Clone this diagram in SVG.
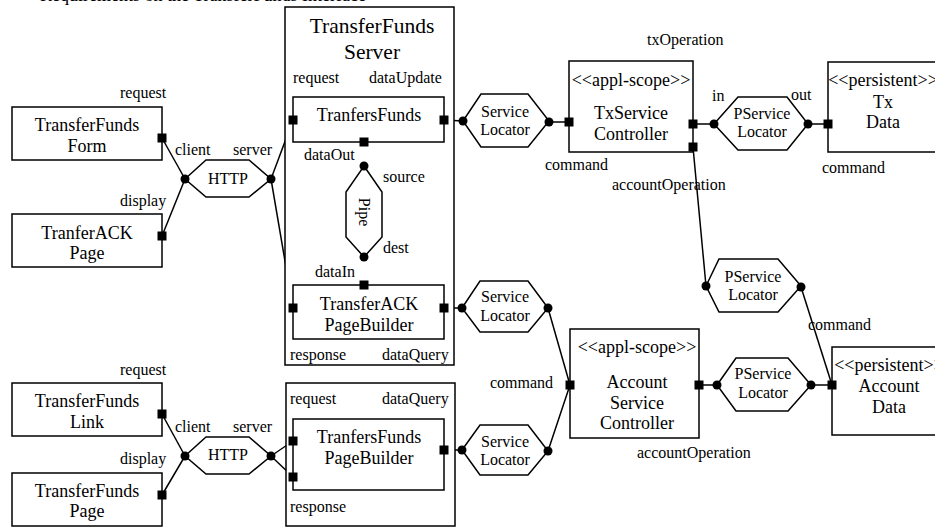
<svg xmlns="http://www.w3.org/2000/svg" width="935" height="527" viewBox="0 0 935 527">
  <style>
    .box { fill: #fff; stroke: #000; stroke-width: 1.5; }
    .hex { fill: #fff; stroke: #000; stroke-width: 1.5; }
    .port { fill: #000; }
    .pin { fill: #000; }
    .wire { stroke: #000; stroke-width: 1.5; fill: none; }
    text { font-family: "Liberation Serif", "Times New Roman", serif; fill: #000; }
    .lbl { font-size: 16px; }
    .nm { font-size: 18px; text-anchor: middle; }
    .hx { font-size: 16px; text-anchor: middle; }
    .ttl { font-size: 21.5px; text-anchor: middle; }
  </style>
  <defs>
    <rect id="sq" x="-4.5" y="-4.5" width="9" height="9" class="port"/>
    <circle id="dot" r="4.5" class="pin"/>
  </defs>

  <rect width="935" height="527" fill="#fff"/>

  <text x="40" y="1" font-size="18">Requirements on the TransferFunds Interface</text>

  <!-- connectors -->
  <g id="connectors">
    <line class="wire" x1="162" y1="138" x2="185" y2="179"/>
    <line class="wire" x1="162" y1="236" x2="185" y2="179"/>
    <line class="wire" x1="271" y1="179" x2="293" y2="120"/>
    <line class="wire" x1="271" y1="179" x2="293" y2="308"/>
    <line class="wire" x1="444" y1="120" x2="463" y2="121"/>
    <line class="wire" x1="549" y1="122" x2="569" y2="122"/>
    <line class="wire" x1="364" y1="142" x2="364" y2="166"/>
    <line class="wire" x1="364" y1="257" x2="364" y2="285"/>
    <line class="wire" x1="444" y1="308" x2="462" y2="308"/>
    <line class="wire" x1="548" y1="308" x2="570" y2="385"/>
    <line class="wire" x1="548" y1="451" x2="570" y2="385"/>
    <line class="wire" x1="444" y1="450" x2="462" y2="450"/>
    <line class="wire" x1="693" y1="124" x2="714" y2="124"/>
    <line class="wire" x1="808" y1="124" x2="828" y2="124"/>
    <line class="wire" x1="693" y1="147" x2="706" y2="286"/>
    <line class="wire" x1="801" y1="287" x2="832" y2="385"/>
    <line class="wire" x1="699" y1="385" x2="717" y2="385"/>
    <line class="wire" x1="811" y1="385" x2="832" y2="385"/>
    <line class="wire" x1="162" y1="414" x2="185" y2="456"/>
    <line class="wire" x1="162" y1="495" x2="185" y2="456"/>
    <line class="wire" x1="271" y1="456" x2="293" y2="441"/>
    <line class="wire" x1="271" y1="456" x2="293" y2="477"/>
  </g>

  <!-- client side components -->
  <g id="transferFundsForm">
    <rect class="box" x="12" y="107" width="150" height="53"/>
    <text class="nm" x="87" y="131">TransferFunds</text>
    <text class="nm" x="87" y="152">Form</text>
    <use href="#sq" x="162" y="138"/>
    <text class="lbl" x="120" y="98">request</text>
  </g>

  <g id="tranferAckPage">
    <rect class="box" x="12" y="214" width="150" height="53"/>
    <text class="nm" x="87" y="239">TranferACK</text>
    <text class="nm" x="87" y="259">Page</text>
    <use href="#sq" x="162" y="236"/>
    <text class="lbl" x="120" y="206">display</text>
  </g>

  <g id="http1">
    <polygon class="hex" points="185,179 206,160 249,160 271,179 249,197 206,197"/>
    <text class="hx" x="228" y="184">HTTP</text>
    <use href="#dot" x="185" y="179"/>
    <use href="#dot" x="271" y="179"/>
    <text class="lbl" x="175" y="155">client</text>
    <text class="lbl" x="233" y="155">server</text>
  </g>

  <!-- server -->
  <g id="transferFundsServer">
    <rect class="box" x="285" y="7" width="169" height="358"/>
    <text class="ttl" x="372" y="33">TransferFunds</text>
    <text class="ttl" x="372" y="59">Server</text>
    <text class="lbl" x="293" y="83">request</text>
    <text class="lbl" x="369" y="83">dataUpdate</text>
    <text class="lbl" x="290" y="360">response</text>
    <text class="lbl" x="382" y="360">dataQuery</text>
  </g>

  <g id="tranfersFunds">
    <rect class="box" x="293" y="97" width="151" height="45"/>
    <text class="nm" x="369" y="121">TranfersFunds</text>
    <use href="#sq" x="293" y="120"/>
    <use href="#sq" x="444" y="120"/>
    <use href="#sq" x="364" y="142"/>
    <text class="lbl" x="304" y="160">dataOut</text>
  </g>

  <g id="pipe">
    <polygon class="hex" points="364,166 382,192 382,237 364,257 346,237 346,192"/>
    <text class="hx" transform="translate(364,212) rotate(90)" x="0" y="5.5">Pipe</text>
    <use href="#dot" x="364" y="166"/>
    <use href="#dot" x="364" y="257"/>
    <text class="lbl" x="383" y="182">source</text>
    <text class="lbl" x="383" y="253">dest</text>
  </g>

  <g id="transferAckPageBuilder">
    <rect class="box" x="293" y="285" width="151" height="54"/>
    <text class="nm" x="369" y="310">TransferACK</text>
    <text class="nm" x="369" y="331">PageBuilder</text>
    <use href="#sq" x="364" y="285"/>
    <use href="#sq" x="293" y="308"/>
    <use href="#sq" x="444" y="308"/>
    <text class="lbl" x="315" y="277">dataIn</text>
  </g>

  <g id="serviceLocator1">
    <polygon class="hex" points="463,121 481,94 528,94 549,121 528,147 481,147"/>
    <text class="hx" x="505" y="117">Service</text>
    <text class="hx" x="505" y="135">Locator</text>
    <use href="#dot" x="463" y="121"/>
    <use href="#dot" x="549" y="122"/>
  </g>

  <g id="serviceLocator2">
    <polygon class="hex" points="462,308 480,281 528,281 548,308 528,332 480,332"/>
    <text class="hx" x="505" y="302">Service</text>
    <text class="hx" x="505" y="321">Locator</text>
    <use href="#dot" x="462" y="308"/>
    <use href="#dot" x="548" y="308"/>
  </g>

  <g id="txServiceController">
    <rect class="box" x="569" y="61" width="124" height="91"/>
    <text class="nm" x="631" y="86">&lt;&lt;appl-scope&gt;&gt;</text>
    <text class="nm" x="631" y="119">TxService</text>
    <text class="nm" x="631" y="140">Controller</text>
    <use href="#sq" x="569" y="122"/>
    <use href="#sq" x="693" y="124"/>
    <use href="#sq" x="693" y="147"/>
    <text class="lbl" x="647" y="45">txOperation</text>
    <text class="lbl" x="545" y="170">command</text>
    <text class="lbl" x="612" y="190">accountOperation</text>
  </g>

  <g id="pServiceLocator1">
    <polygon class="hex" points="714,124 738,97 787,97 808,124 787,150 738,150"/>
    <text class="hx" x="762" y="119">PService</text>
    <text class="hx" x="762" y="137">Locator</text>
    <use href="#dot" x="714" y="124"/>
    <use href="#dot" x="808" y="124"/>
    <text class="lbl" x="712" y="101">in</text>
    <text class="lbl" x="791" y="100">out</text>
  </g>

  <g id="txData">
    <rect class="box" x="828" y="62" width="110" height="90"/>
    <text class="nm" x="883" y="86">&lt;&lt;persistent&gt;&gt;</text>
    <text class="nm" x="883" y="108">Tx</text>
    <text class="nm" x="883" y="128">Data</text>
    <use href="#sq" x="828" y="124"/>
    <text class="lbl" x="822" y="173">command</text>
  </g>

  <g id="pServiceLocator2">
    <polygon class="hex" points="706,286 719,259 778,259 801,286 778,312 719,312"/>
    <text class="hx" x="753" y="282">PService</text>
    <text class="hx" x="753" y="300">Locator</text>
    <use href="#dot" x="706" y="286"/>
    <use href="#dot" x="801" y="287"/>
    <text class="lbl" x="808" y="330">command</text>
  </g>

  <g id="accountServiceController">
    <rect class="box" x="570" y="329" width="129" height="109"/>
    <text class="nm" x="637" y="353">&lt;&lt;appl-scope&gt;&gt;</text>
    <text class="nm" x="637" y="388">Account</text>
    <text class="nm" x="637" y="409">Service</text>
    <text class="nm" x="637" y="429">Controller</text>
    <use href="#sq" x="570" y="385"/>
    <use href="#sq" x="699" y="385"/>
    <text class="lbl" x="490" y="388">command</text>
    <text class="lbl" x="637" y="458">accountOperation</text>
  </g>

  <g id="pServiceLocator3">
    <polygon class="hex" points="717,385 736,358 788,358 811,385 788,411 736,411"/>
    <text class="hx" x="763" y="379">PService</text>
    <text class="hx" x="763" y="398">Locator</text>
    <use href="#dot" x="717" y="385"/>
    <use href="#dot" x="811" y="385"/>
  </g>

  <g id="accountData">
    <rect class="box" x="832" y="347" width="114" height="88"/>
    <text class="nm" x="889" y="371">&lt;&lt;persistent&gt;&gt;</text>
    <text class="nm" x="889" y="392">Account</text>
    <text class="nm" x="889" y="413">Data</text>
    <use href="#sq" x="832" y="385"/>
  </g>

  <!-- lower client / server pair -->
  <g id="transferFundsLink">
    <rect class="box" x="12" y="383" width="150" height="53"/>
    <text class="nm" x="87" y="407">TransferFunds</text>
    <text class="nm" x="87" y="428">Link</text>
    <use href="#sq" x="162" y="414"/>
    <text class="lbl" x="120" y="375">request</text>
  </g>

  <g id="transferFundsPage">
    <rect class="box" x="12" y="473" width="150" height="53"/>
    <text class="nm" x="87" y="497">TransferFunds</text>
    <text class="nm" x="87" y="517">Page</text>
    <use href="#sq" x="162" y="495"/>
    <text class="lbl" x="120" y="464">display</text>
  </g>

  <g id="http2">
    <polygon class="hex" points="185,456 206,437 249,437 271,456 249,474 206,474"/>
    <text class="hx" x="228" y="460">HTTP</text>
    <use href="#dot" x="185" y="456"/>
    <use href="#dot" x="271" y="456"/>
    <text class="lbl" x="175" y="432">client</text>
    <text class="lbl" x="233" y="432">server</text>
  </g>

  <g id="pageServer">
    <rect class="box" x="286" y="383" width="169" height="143"/>
    <text class="lbl" x="290" y="404">request</text>
    <text class="lbl" x="382" y="404">dataQuery</text>
    <text class="lbl" x="290" y="512">response</text>
  </g>

  <g id="tranfersFundsPageBuilder">
    <rect class="box" x="293" y="419" width="151" height="71"/>
    <text class="nm" x="369" y="443">TranfersFunds</text>
    <text class="nm" x="369" y="464">PageBuilder</text>
    <use href="#sq" x="293" y="441"/>
    <use href="#sq" x="293" y="477"/>
    <use href="#sq" x="444" y="450"/>
  </g>

  <g id="serviceLocator3">
    <polygon class="hex" points="462,450 480,425 528,425 548,451 528,475 480,475"/>
    <text class="hx" x="505" y="447">Service</text>
    <text class="hx" x="505" y="465">Locator</text>
    <use href="#dot" x="462" y="450"/>
    <use href="#dot" x="548" y="451"/>
  </g>
</svg>
